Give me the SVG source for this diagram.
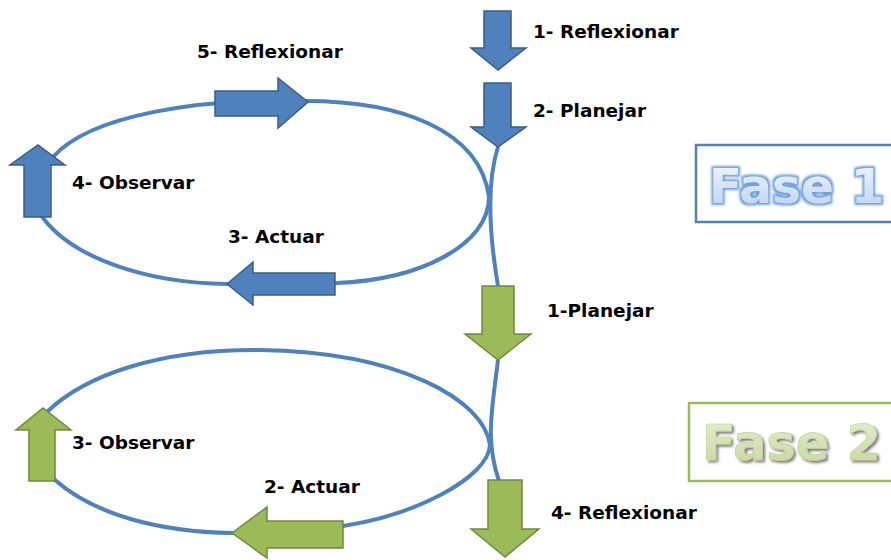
<svg xmlns="http://www.w3.org/2000/svg" width="891" height="560" viewBox="0 0 891 560">
  <defs>
    <style>
      .line { fill: none; stroke: #4f81bd; stroke-width: 4; }
      .blue { fill: #4f81bd; stroke: #385d8a; stroke-width: 1.5; }
      .green { fill: #9bbb59; stroke: #71893f; stroke-width: 1.5; }
      .lbl { font-family: "DejaVu Sans", Verdana, sans-serif; font-weight: bold; font-size: 18.5px; fill: #000; }
      .fase { font-family: "DejaVu Sans", Verdana, sans-serif; font-weight: bold; }
    </style>
    <linearGradient id="gBlue" x1="0" y1="0" x2="0" y2="1">
      <stop offset="0" stop-color="#f4f8fd"/>
      <stop offset="1" stop-color="#b9d1ef"/>
    </linearGradient>
    <linearGradient id="gGreen" x1="0" y1="0" x2="0" y2="1">
      <stop offset="0" stop-color="#e6efd3"/>
      <stop offset="1" stop-color="#c3d69b"/>
    </linearGradient>
    <filter id="glow" x="-10%" y="-30%" width="120%" height="160%">
      <feMorphology in="SourceAlpha" operator="dilate" radius="1.5" result="d"/>
      <feFlood flood-color="#6f9fdc"/>
      <feComposite in2="d" operator="in"/>
      <feGaussianBlur stdDeviation="1.2" result="g"/>
      <feMerge>
        <feMergeNode in="g"/>
        <feMergeNode in="SourceGraphic"/>
      </feMerge>
    </filter>
    <filter id="shadow" x="-10%" y="-30%" width="120%" height="160%">
      <feGaussianBlur in="SourceAlpha" stdDeviation="1.5"/>
      <feOffset dx="2" dy="2"/>
      <feComponentTransfer>
        <feFuncA type="linear" slope="0.55"/>
      </feComponentTransfer>
      <feMerge>
        <feMergeNode/>
        <feMergeNode in="SourceGraphic"/>
      </feMerge>
    </filter>
  </defs>
  <rect width="891" height="560" fill="#ffffff"/>

  <g id="connectors">
    <path class="line" d="M 498,147 C 489,175 486,215 498,286"/>
    <path class="line" d="M 489,197 C 480,130 400,100 300,101 C 200,98 90,115 53,157 C 30,185 33,205 43,218 C 75,260 150,283 227,284 L 336,283 C 420,280 489,245 489,197 Z"/>
    <path class="line" d="M 498,360 C 492,410 485,440 499,481"/>
    <path class="line" d="M 490,445 C 484,400 400,352 260,350 C 160,349 85,375 47,412 C 35,430 38,465 55,480 C 95,515 160,532 232,533 L 343,526 C 415,515 488,478 490,445 Z"/>
  </g>

  <g id="fase1-reflexionar">
    <polygon class="blue" points="484,11 511,11 511,48 526,48 498,70 471,48 484,48"/>
    <text class="lbl" x="533" y="38">1- Reflexionar</text>
  </g>
  <g id="fase1-planejar">
    <polygon class="blue" points="484,83 511,83 511,127 526,127 498,147 471,127 484,127"/>
    <text class="lbl" x="533" y="117">2- Planejar</text>
  </g>
  <g id="fase1-actuar">
    <polygon class="blue" points="335,273 253,273 253,262 227,284 253,305 253,295 335,295"/>
    <text class="lbl" x="228" y="243">3- Actuar</text>
  </g>
  <g id="fase1-observar">
    <polygon class="blue" points="24,217 24,165 10,165 38,145 65,165 51,165 51,217"/>
    <text class="lbl" x="72" y="189">4- Observar</text>
  </g>
  <g id="fase1-reflexionar5">
    <polygon class="blue" points="215,91 278,91 278,78 308,102 278,128 278,116 215,116"/>
    <text class="lbl" x="197" y="58">5- Reflexionar</text>
  </g>

  <g id="fase2-planejar">
    <polygon class="green" points="482,286 514,286 514,334 531,334 498,360 465,334 482,334"/>
    <text class="lbl" x="547" y="317">1-Planejar</text>
  </g>
  <g id="fase2-actuar">
    <polygon class="green" points="343,521 267,521 267,507 232,533 267,558 267,548 343,548"/>
    <text class="lbl" x="264" y="493">2- Actuar</text>
  </g>
  <g id="fase2-observar">
    <polygon class="green" points="29,481 29,430 16,430 43,408 71,430 55,430 55,481"/>
    <text class="lbl" x="72" y="449">3- Observar</text>
  </g>
  <g id="fase2-reflexionar">
    <polygon class="green" points="488,480 522,480 522,529 539,529 505,557 471,529 488,529"/>
    <text class="lbl" x="551" y="519">4- Reflexionar</text>
  </g>

  <g id="fase1-box">
    <rect x="696" y="145" width="200" height="77" fill="#ffffff" stroke="#4f81bd" stroke-width="2.5"/>
    <text class="fase" x="709" y="203" font-size="48.5" fill="url(#gBlue)" filter="url(#glow)">Fase 1</text>
  </g>
  <g id="fase2-box">
    <rect x="689" y="403" width="210" height="78" fill="#ffffff" stroke="#9bbb59" stroke-width="2.5"/>
    <text class="fase" x="702" y="460" font-size="49.5" fill="url(#gGreen)" stroke="#bcd08f" stroke-width="0.6" filter="url(#shadow)">Fase 2</text>
  </g>
</svg>
